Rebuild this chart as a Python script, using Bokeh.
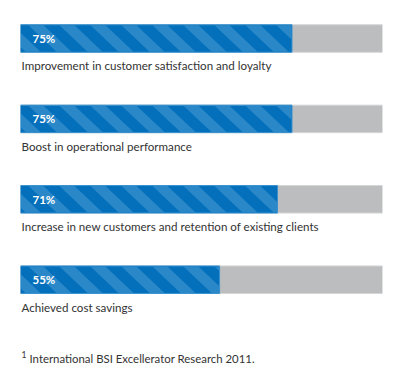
from bokeh.plotting import figure
from bokeh.models import Range1d, ColumnDataSource
from bokeh.core.properties import value
from bokeh.embed import file_html
from bokeh.resources import INLINE

labels = [
    "Improvement in customer satisfaction and loyalty",
    "Boost in operational performance",
    "Increase in new customers and retention of existing clients",
    "Achieved cost savings",
]
percents = [75, 75, 71, 55]
footnote_mark = "1"
footnote = "International BSI Excellerator Research 2011."

rows = list(range(len(labels)))
FONT = "Lato"

W, H = 400, 381
LEFT, RIGHT = 20, 18
FRAME_W = W - LEFT - RIGHT          # px for 100 %
ROW_PX = 80.4                       # px per row
TOP_PX = 38                         # px from top to first bar centre
PX_X = FRAME_W / 100.0
BAR_PX = 27.5

y_top = -TOP_PX / ROW_PX
y_bot = y_top + H / ROW_PX

p = figure(width=W, height=H, output_backend="svg", toolbar_location=None,
           x_range=Range1d(0, 100), y_range=Range1d(y_bot, y_top),
           min_border_left=LEFT, min_border_right=RIGHT,
           min_border_top=0, min_border_bottom=0)
p.axis.visible = False
p.grid.visible = False
p.outline_line_color = None
p.background_fill_color = "white"
p.border_fill_color = "white"

h = BAR_PX / ROW_PX
src = ColumnDataSource(dict(
    y=rows, pct=percents, full=[100] * len(rows), zero=[0] * len(rows),
    lab=labels, pct_txt=[f"{v}%" for v in percents],
    lab_y=[r + 0.34 for r in rows],
))

p.hbar(y="y", left="zero", right="full", height=h, source=src,
       fill_color="#bcbdbf", line_color="#d4d5d6", line_width=1)
p.hbar(y="y", left="zero", right="pct", height=h, source=src,
       fill_color="#0470bb", line_color="#3a92cf", line_width=1)


def clip_x(poly, lo, hi):
    def clip(pts, inside, inter):
        out = []
        n = len(pts)
        for i in range(n):
            a, b = pts[i], pts[(i + 1) % n]
            ia, ib = inside(a), inside(b)
            if ia:
                out.append(a)
            if ia != ib:
                out.append(inter(a, b))
        return out

    def ix(xc):
        def f(a, b):
            t = (xc - a[0]) / (b[0] - a[0])
            return (xc, a[1] + t * (b[1] - a[1]))
        return f

    pts = clip(poly, lambda q: q[0] >= lo, ix(lo))
    if not pts:
        return []
    pts = clip(pts, lambda q: q[0] <= hi, ix(hi))
    return pts


# decorative diagonal stripes inside each blue bar
PERIOD, STRIPE_W, SLANT = 31.0, 15.0, 28.0
sxs, sys_ = [], []
for r, v in zip(rows, percents):
    right_px = v * PX_X
    k = -2
    while k * PERIOD < right_px + PERIOD:
        s = k * PERIOD + 8
        top, bot = -BAR_PX / 2, BAR_PX / 2
        poly = [(s, top), (s + STRIPE_W, top), (s + STRIPE_W + SLANT, bot), (s + SLANT, bot)]
        c = clip_x(poly, 0.5, right_px - 0.5)
        if len(c) >= 3:
            sxs.append([q[0] / PX_X for q in c])
            sys_.append([r + q[1] / ROW_PX * 0.96 for q in c])
        k += 1

p.patches(xs=sxs, ys=sys_, fill_color="#2a88c9", line_color=None)

p.text(x="zero", y="y", text="pct_txt", source=src, x_offset=12,
       text_font=value(FONT), text_font_size="11.5px", text_font_style="bold",
       text_color="white", text_baseline="middle", text_align="left")
p.text(x="zero", y="lab_y", text="lab", source=src, x_offset=1,
       text_font=value(FONT), text_font_size="11.6px",
       text_color="#333333", text_baseline="alphabetic", text_align="left")

fy = rows[-1] + 0.975
p.text(x=[0], y=[fy], text=[footnote_mark], x_offset=1, y_offset=-4,
       text_font=value(FONT), text_font_size="8.5px",
       text_color="#333333", text_baseline="alphabetic", text_align="left")
p.text(x=[0], y=[fy], text=[footnote], x_offset=9,
       text_font=value(FONT), text_font_size="11.4px",
       text_color="#333333", text_baseline="alphabetic", text_align="left")

open("out.html", "w").write(file_html(p, INLINE))
